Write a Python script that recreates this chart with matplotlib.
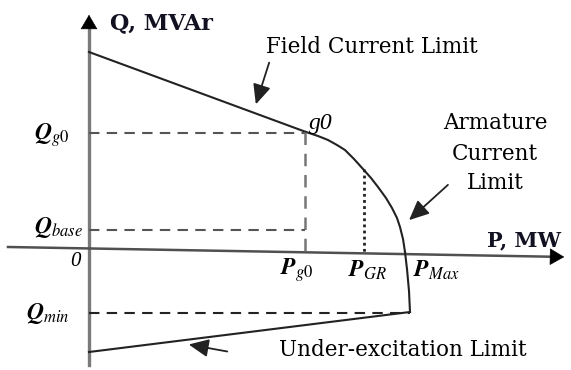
import matplotlib
matplotlib.use("Agg")
import matplotlib.pyplot as plt

plt.rcParams['font.family'] = ['DejaVu Serif', 'Liberation Serif']
plt.rcParams['mathtext.fontset'] = 'stix'

# capability curve (P right, Q up, arbitrary units)
field_p = [0, 217]
field_q = [197, 117]
arm_p = [217, 229, 239, 248, 256, 265, 274, 282, 289, 297, 303, 308, 311, 314, 316]
arm_q = [117, 113, 109, 104, 99, 90, 80, 71, 62, 51, 41, 31, 22, 10, -3]
edge_p = [316, 318, 320, 321]
edge_q = [-3, -20, -42, -63]
under_p = [321, 0]
under_q = [-63, -103]

p_g0, q_g0 = 216, 117
p_gr, q_gr = 275, 80
q_base = 19
q_min = -64
p_axis_x = [-81, 478]
p_axis_y = [2, -8]   # P axis is slightly tilted in the sketch

fig = plt.figure(figsize=(5.71, 3.70), dpi=100)
ax = fig.add_axes([0, 0, 1, 1])
ax.set_xlim(-89, 482)
ax.set_ylim(-121, 249)
ax.axis('off')

head = '-|>,head_length=0.6,head_width=0.35'

# axes with arrow heads
ax.plot([0, 0], [-116, 226], color='#7a7a7a', lw=2.4)
ax.annotate('', xy=(0, 237), xytext=(0, 222),
            arrowprops=dict(arrowstyle=head, color='black', lw=0.5, mutation_scale=16))
ax.plot([p_axis_x[0], p_axis_x[1] - 10], [p_axis_y[0], p_axis_y[1] + 0.18], color='#505050', lw=1.8)
ax.annotate('', xy=(p_axis_x[1], p_axis_y[1]), xytext=(p_axis_x[1] - 15, p_axis_y[1] + 0.27),
            arrowprops=dict(arrowstyle=head, color='black', lw=0.5, mutation_scale=16))

# limit curves
for px, qy in [(field_p, field_q), (arm_p, arm_q), (edge_p, edge_q), (under_p, under_q)]:
    ax.plot(px, qy, color='#222222', lw=1.5, solid_joinstyle='round')

# guide lines
ax.plot([0, p_g0], [q_g0 - 1, q_g0 - 1], color='#555555', lw=1.5, ls=(0, (5, 3.5)))
ax.plot([p_g0, p_g0], [q_g0, -2], color='#777777', lw=1.8, ls=(0, (5, 3.5)))
ax.plot([0, p_g0], [q_base, q_base], color='#555555', lw=1.5, ls=(0, (5, 3.5)))
ax.plot([0, edge_p[-1]], [q_min, q_min], color='#222222', lw=1.5, ls=(0, (5, 3.5)))
ax.plot([p_gr, p_gr], [q_gr, -3], color='#222222', lw=2, ls=(0, (1, 1.2)))

# annotation arrows
arr = dict(arrowstyle='-|>,head_length=0.55,head_width=0.25', color='#222222', lw=1.3, mutation_scale=22)
ax.annotate('', xy=(166, 142), xytext=(181, 189), arrowprops=arr)
ax.annotate('', xy=(318, 27), xytext=(361, 66), arrowprops=arr)
ax.annotate('', xy=(97, -95), xytext=(141, -103), arrowprops=arr)

# labels
ax.text(21, 226, 'Q, MVAr', fontsize=16, fontweight='bold', color='#111122', va='center', ha='left')
ax.text(398, 9, 'P, MW', fontsize=15, fontweight='bold', color='#111122', va='center', ha='left')
ax.text(283, 202, 'Field Current Limit', fontsize=15.5, va='center', ha='center')
ax.text(406, 126, 'Armature', fontsize=15.5, va='center', ha='center')
ax.text(406, 95, 'Current', fontsize=15.5, va='center', ha='center')
ax.text(406, 66, 'Limit', fontsize=15.5, va='center', ha='center')
ax.text(314, -101, 'Under-excitation Limit', fontsize=15.5, va='center', ha='center')
ax.text(220, 126, 'g0', fontsize=17, family='Liberation Serif', style='italic', va='center', ha='left')
ax.text(-14, -13, '0', fontsize=15, family='Liberation Serif', style='italic', va='center', ha='center')

ax.text(-19, 114, r'$\mathbfit{Q}_{\mathit{g0}}$', fontsize=17, va='center', ha='right')
ax.text(-6, 22, r'$\mathbfit{Q}_{\mathit{base}}$', fontsize=17, va='center', ha='right')
ax.text(-19, -64, r'$\mathbfit{Q}_{\mathit{min}}$', fontsize=17, va='center', ha='right')
ax.text(208, -21, r'$\mathbfit{P}_{\mathit{g0}}$', fontsize=17, va='center', ha='center')
ax.text(279, -21, r'$\mathbfit{P}_{\mathit{GR}}$', fontsize=17, va='center', ha='center')
ax.text(347, -21, r'$\mathbfit{P}_{\mathit{Max}}$', fontsize=17, va='center', ha='center')

fig.savefig('out.png', dpi=100)
